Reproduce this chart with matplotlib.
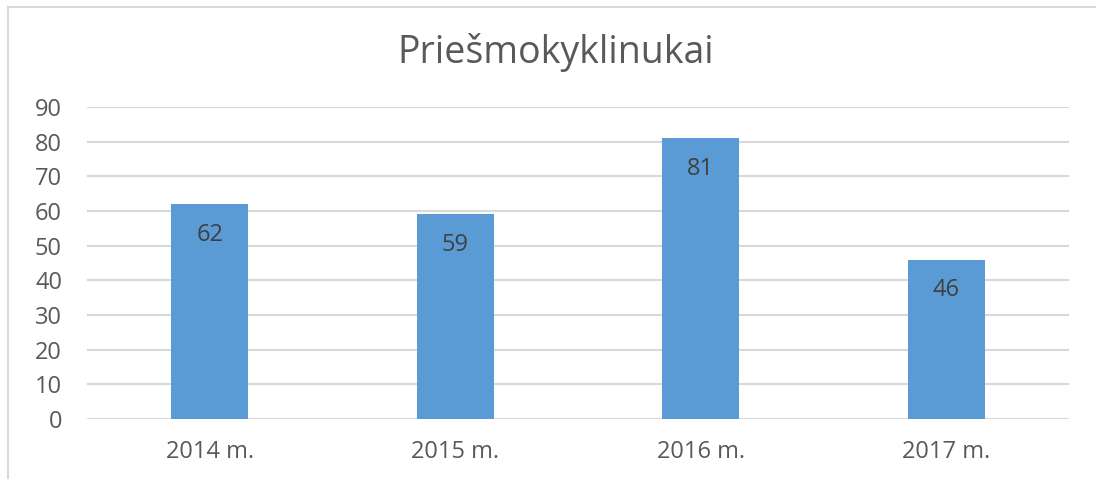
import matplotlib.pyplot as plt
from matplotlib.lines import Line2D

plt.rcParams['font.family'] = ['Open Sans', 'DejaVu Sans']

years = ["2014 m.", "2015 m.", "2016 m.", "2017 m."]
counts = [62, 59, 81, 46]
yticks = [0, 10, 20, 30, 40, 50, 60, 70, 80, 90]

W, H = 1096, 479
fig = plt.figure(figsize=(W / 100, H / 100), dpi=100)
ax = fig.add_axes([87 / W, 1 - 419 / H, (1069 - 87) / W, (419 - 107) / H])

x = range(len(years))
bars = ax.bar(x, counts, width=0.314, color="#5B9BD5", zorder=3)

for i, v in enumerate(counts):
    ax.annotate(str(v), (i, v), xytext=(0, -22), textcoords="offset points",
                ha="center", va="center", fontsize=17, color="#404040", zorder=4)

ax.set_xlim(-0.5, len(years) - 0.5)
ax.set_ylim(0, 90)
ax.set_yticks(yticks)
ax.set_xticks(list(x))
ax.set_xticklabels(years)
ax.tick_params(axis="both", length=0, labelsize=17, labelcolor="#595959")
ax.tick_params(axis="y", pad=18)
ax.tick_params(axis="x", pad=15)
ax.grid(axis="y", color="#D9D9D9", linewidth=1.5, zorder=0)
for s in ax.spines.values():
    s.set_visible(False)

fig.text(556 / W, 1 - 52 / H, "Priešmokyklinukai", ha="center", va="center",
         fontsize=27, color="#595959")

# chart border (only top and left visible in the crop)
fig.add_artist(Line2D([8 / W, 1], [1 - 7 / H, 1 - 7 / H], color="#D9D9D9", linewidth=1.5))
fig.add_artist(Line2D([8 / W, 8 / W], [0, 1 - 7 / H], color="#D9D9D9", linewidth=1.5))

fig.savefig("out.png", dpi=100)
